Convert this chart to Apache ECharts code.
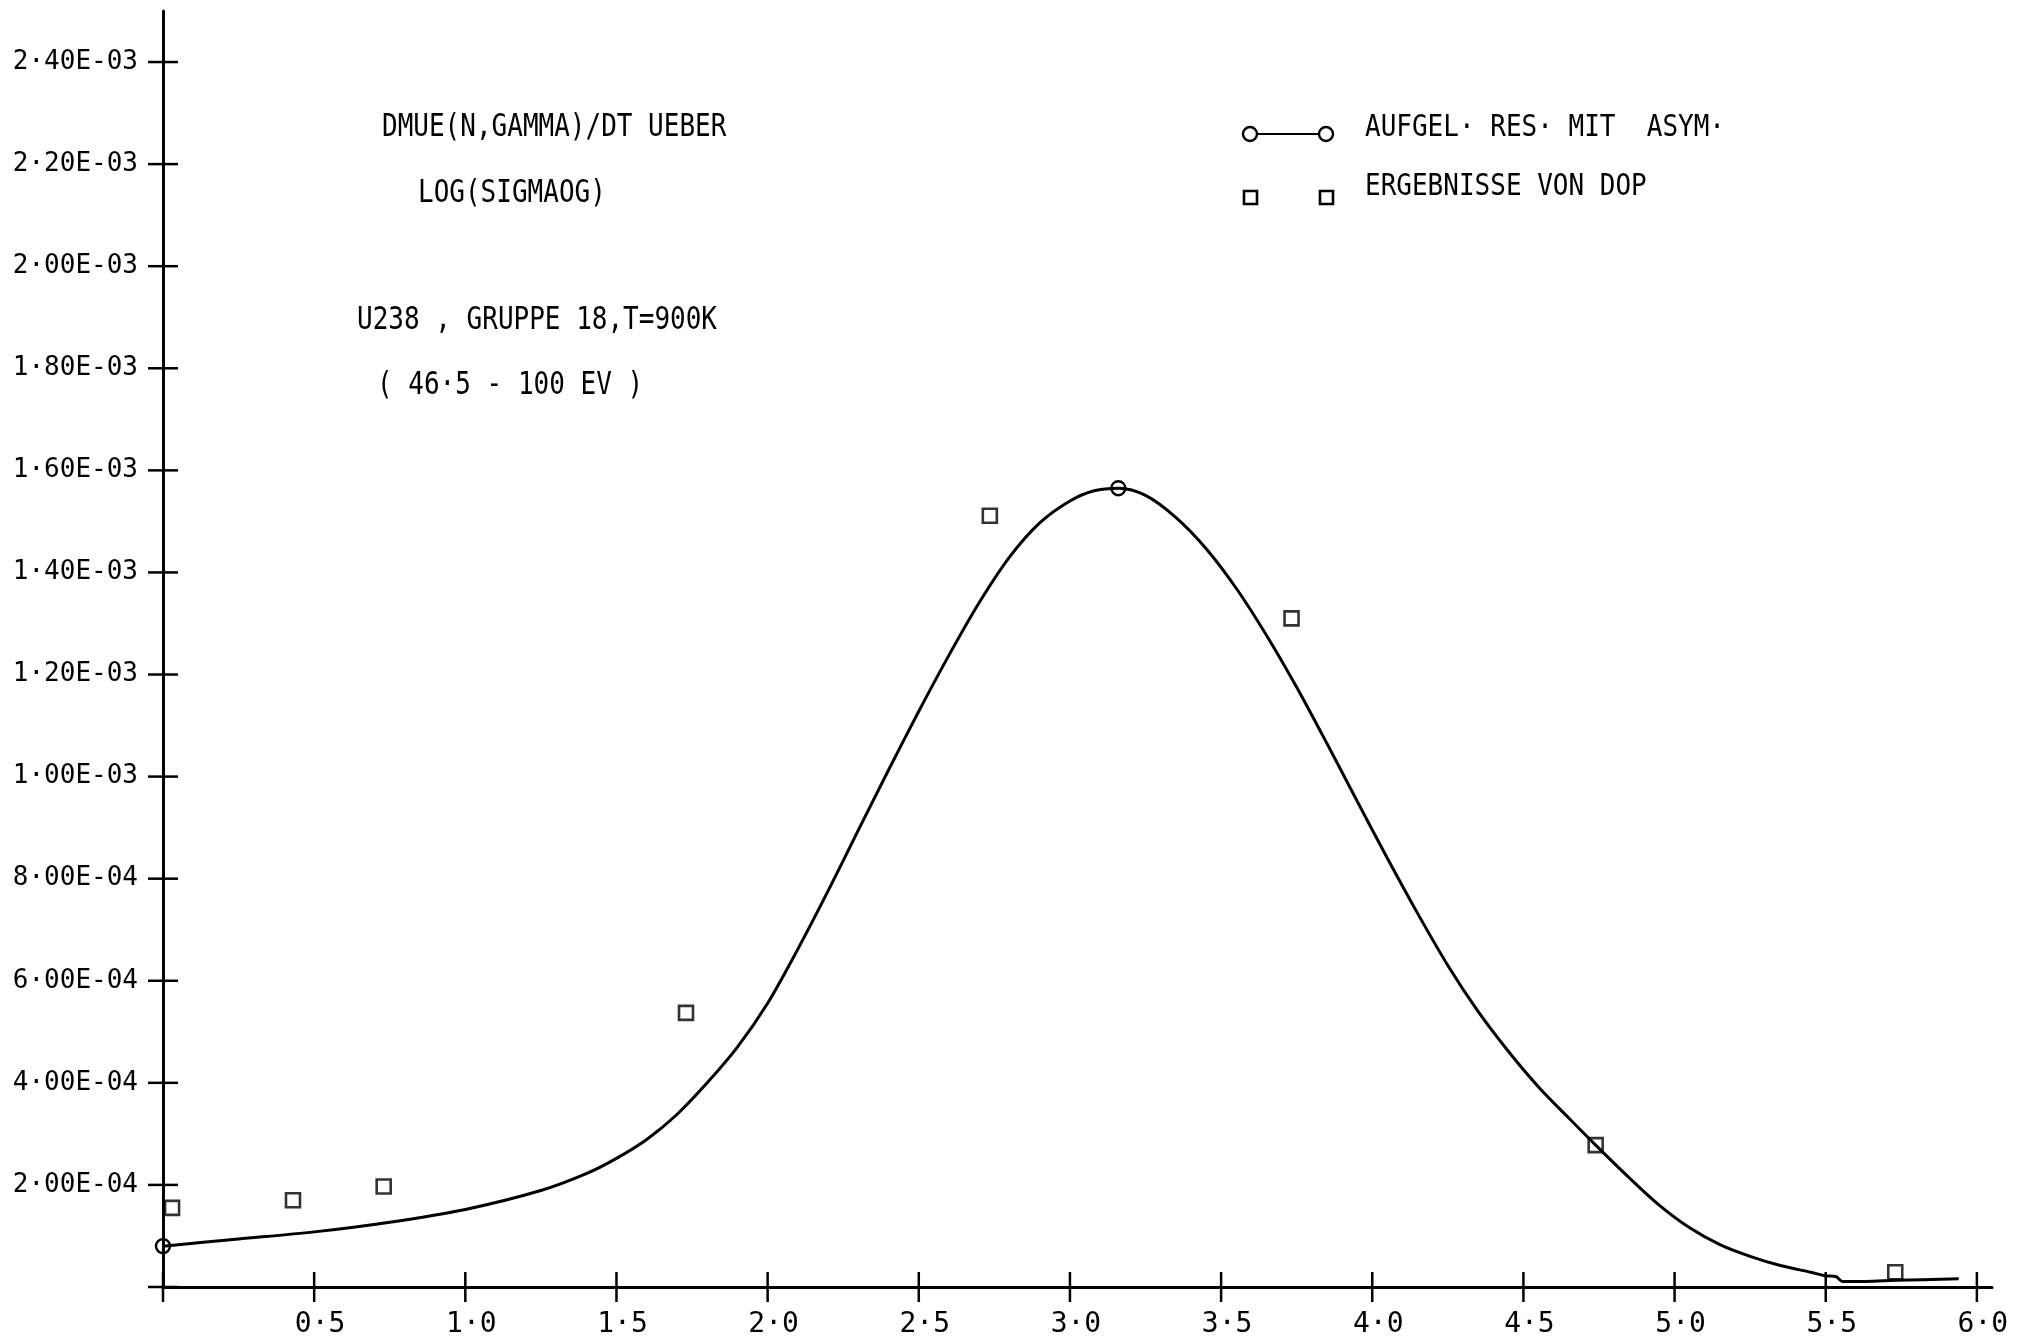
<!DOCTYPE html>
<html>
<head>
<meta charset="utf-8">
<script src="https://cdn.jsdelivr.net/npm/echarts@6/dist/echarts.min.js"></script>
<style>
  html, body { margin: 0; padding: 0; background: #ffffff; }
  #chart { width: 2029px; height: 1340px; }
</style>
</head>
<body>
<div id="chart"></div>
<script>
// Fitted curve: dmu(n,gamma)/dT against log(sigma0g)
const curveX = [0.00, 0.25, 0.50, 0.75, 1.00, 1.25, 1.40, 1.50, 1.60, 1.70, 1.80, 1.90, 2.00, 2.10, 2.20,
  2.30, 2.40, 2.50, 2.60, 2.70, 2.80, 2.90, 3.00, 3.08, 3.16, 3.25, 3.35, 3.45, 3.55, 3.65, 3.75, 3.85,
  3.95, 4.05, 4.15, 4.25, 4.35, 4.45, 4.55, 4.65, 4.739, 4.85, 4.95, 5.05, 5.15, 5.25, 5.35, 5.45, 5.50,
  5.535, 5.555, 5.63, 5.73, 5.94];
const curveY = [0.080e-3, 0.094e-3, 0.108e-3, 0.127e-3, 0.152e-3, 0.189e-3, 0.222e-3, 0.252e-3, 0.289e-3,
  0.338e-3, 0.400e-3, 0.470e-3, 0.556e-3, 0.662e-3, 0.776e-3, 0.895e-3, 1.013e-3, 1.128e-3, 1.238e-3,
  1.341e-3, 1.430e-3, 1.497e-3, 1.540e-3, 1.560e-3, 1.565e-3, 1.551e-3, 1.508e-3, 1.447e-3, 1.369e-3,
  1.277e-3, 1.175e-3, 1.065e-3, 0.952e-3, 0.840e-3, 0.732e-3, 0.630e-3, 0.540e-3, 0.462e-3, 0.392e-3,
  0.331e-3, 0.278e-3, 0.214e-3, 0.160e-3, 0.116e-3, 0.083e-3, 0.060e-3, 0.042e-3, 0.029e-3, 0.022e-3,
  0.020e-3, 0.011e-3, 0.011e-3, 0.013e-3, 0.016e-3];
// curve points that carry a circle marker
const curveMarkedX = [0.00, 3.16];

// DOP results
const dopX = [0.03, 0.43, 0.73, 1.73, 2.735, 3.733, 4.739, 5.73];
const dopY = [0.155e-3, 0.170e-3, 0.197e-3, 0.537e-3, 1.511e-3, 1.310e-3, 0.278e-3, 0.029e-3];

// axis ticks and labels
const xTicks = [0, 0.5, 1.0, 1.5, 2.0, 2.5, 3.0, 3.5, 4.0, 4.5, 5.0, 5.5, 6.0];
const xLabelValues = [0.5, 1.0, 1.5, 2.0, 2.5, 3.0, 3.5, 4.0, 4.5, 5.0, 5.5, 6.0];
const xLabels = ['0·5', '1·0', '1·5', '2·0', '2·5', '3·0', '3·5', '4·0', '4·5', '5·0', '5·5', '6·0'];
const yTicks = [0, 0.2e-3, 0.4e-3, 0.6e-3, 0.8e-3, 1.0e-3, 1.2e-3, 1.4e-3, 1.6e-3, 1.8e-3, 2.0e-3, 2.2e-3, 2.4e-3];
const yLabelValues = [0.2e-3, 0.4e-3, 0.6e-3, 0.8e-3, 1.0e-3, 1.2e-3, 1.4e-3, 1.6e-3, 1.8e-3, 2.0e-3, 2.2e-3, 2.4e-3];
const yLabels = ['2·00E-04', '4·00E-04', '6·00E-04', '8·00E-04', '1·00E-03', '1·20E-03', '1·40E-03',
  '1·60E-03', '1·80E-03', '2·00E-03', '2·20E-03', '2·40E-03'];

// annotation block and legend entries
const noteLines = ['DMUE(N,GAMMA)/DT UEBER', 'LOG(SIGMAOG)', 'U238 , GRUPPE 18,T=900K', '( 46·5 - 100 EV )'];
const seriesNames = ['AUFGEL· RES· MIT  ASYM·', 'ERGEBNISSE VON DOP'];

const FONT = '"DejaVu Sans Mono", "Liberation Mono", monospace';
const INK = '#000000';
const TICK_HALF = 15;

function lookup(values, labels, v) {
  let best = 0;
  for (let i = 1; i < values.length; i++) {
    if (Math.abs(values[i] - v) < Math.abs(values[best] - v)) best = i;
  }
  return labels[best];
}

const curveData = curveX.map((x, i) => {
  const marked = curveMarkedX.indexOf(x) >= 0;
  return marked
    ? { value: [x, curveY[i]], symbol: 'circle', symbolSize: 14 }
    : { value: [x, curveY[i]], symbol: 'none' };
});
const dopData = dopX.map((x, i) => [x, dopY[i]]);

const chart = echarts.init(document.getElementById('chart'), null, { renderer: 'canvas' });

const noteText = (text, x, y) => ({
  type: 'text', x: x, y: y, scaleY: 1.2,
  style: { text: text, fill: INK, font: '26px ' + FONT, verticalAlign: 'middle', align: 'left' }
});

// plotter-style ticks that cross the axis line, placed through the axis scales
const crossTick = (vertical) => (params, api) => {
  const p = vertical ? api.coord([api.value(0), 0]) : api.coord([0, api.value(1)]);
  const shape = vertical
    ? { x1: p[0], y1: p[1] - TICK_HALF, x2: p[0], y2: p[1] + TICK_HALF }
    : { x1: p[0] - TICK_HALF, y1: p[1], x2: p[0] + TICK_HALF, y2: p[1] };
  return { type: 'line', shape: shape, style: { stroke: INK, lineWidth: 2.5 } };
};

chart.setOption({
  animation: false,
  backgroundColor: '#ffffff',
  grid: { left: 163, top: 11, right: 37, bottom: 53, containLabel: false },
  xAxis: {
    type: 'value', min: 0, max: 6.05,
    axisLine: { show: true, onZero: false, lineStyle: { color: INK, width: 3 } },
    axisTick: { show: false },
    axisLabel: {
      show: true, customValues: xLabelValues, margin: 24, padding: [0, 0, 0, 12],
      formatter: v => lookup(xLabelValues, xLabels, v),
      color: INK, fontFamily: FONT, fontSize: 28, lineHeight: 28
    },
    splitLine: { show: false }
  },
  yAxis: {
    type: 'value', min: 0, max: 2.5e-3,
    axisLine: { show: true, onZero: false, lineStyle: { color: INK, width: 3 } },
    axisTick: { show: false },
    axisLabel: {
      show: true, customValues: yLabelValues, margin: 25,
      formatter: v => lookup(yLabelValues, yLabels, v),
      color: INK, fontFamily: FONT, fontSize: 26
    },
    splitLine: { show: false }
  },
  series: [
    {
      type: 'custom', data: xTicks.map(v => [v, 0]), renderItem: crossTick(true),
      clip: false, silent: true, z: 5
    },
    {
      type: 'custom', data: yTicks.map(v => [0, v]), renderItem: crossTick(false),
      clip: false, silent: true, z: 5
    },
    {
      name: seriesNames[0], type: 'line',
      data: curveData,
      smooth: 0.3,
      showSymbol: true, showAllSymbol: true, clip: false,
      lineStyle: { color: INK, width: 3 },
      itemStyle: { color: 'rgba(0,0,0,0)', borderColor: INK, borderWidth: 2.4 },
      z: 3
    },
    {
      name: seriesNames[1], type: 'scatter',
      data: dopData,
      symbol: 'rect', symbolSize: 14, clip: false,
      itemStyle: { color: 'rgba(0,0,0,0)', borderColor: INK, borderWidth: 2.6 },
      z: 4
    }
  ],
  graphic: [
    noteText(noteLines[0], 382, 128),
    noteText(noteLines[1], 418, 194),
    noteText(noteLines[2], 357, 321),
    noteText(noteLines[3], 377, 386),
    // legend: curve entry
    { type: 'line', shape: { x1: 1257, y1: 134, x2: 1319, y2: 134 }, style: { stroke: INK, lineWidth: 2.2 } },
    { type: 'circle', shape: { cx: 1250, cy: 134, r: 7 }, style: { fill: 'rgba(0,0,0,0)', stroke: INK, lineWidth: 2.4 } },
    { type: 'circle', shape: { cx: 1326, cy: 134, r: 7 }, style: { fill: 'rgba(0,0,0,0)', stroke: INK, lineWidth: 2.4 } },
    {
      type: 'text', x: 1365, y: 128, scaleY: 1.15,
      style: { text: seriesNames[0], fill: INK, font: '26px ' + FONT, verticalAlign: 'middle', align: 'left' }
    },
    // legend: DOP entry
    { type: 'rect', shape: { x: 1244, y: 191, width: 13, height: 13 }, style: { fill: 'rgba(0,0,0,0)', stroke: INK, lineWidth: 2.6 } },
    { type: 'rect', shape: { x: 1320, y: 191, width: 13, height: 13 }, style: { fill: 'rgba(0,0,0,0)', stroke: INK, lineWidth: 2.6 } },
    {
      type: 'text', x: 1365, y: 187, scaleY: 1.15,
      style: { text: seriesNames[1], fill: INK, font: '26px ' + FONT, verticalAlign: 'middle', align: 'left' }
    }
  ]
});
</script>
</body>
</html>
